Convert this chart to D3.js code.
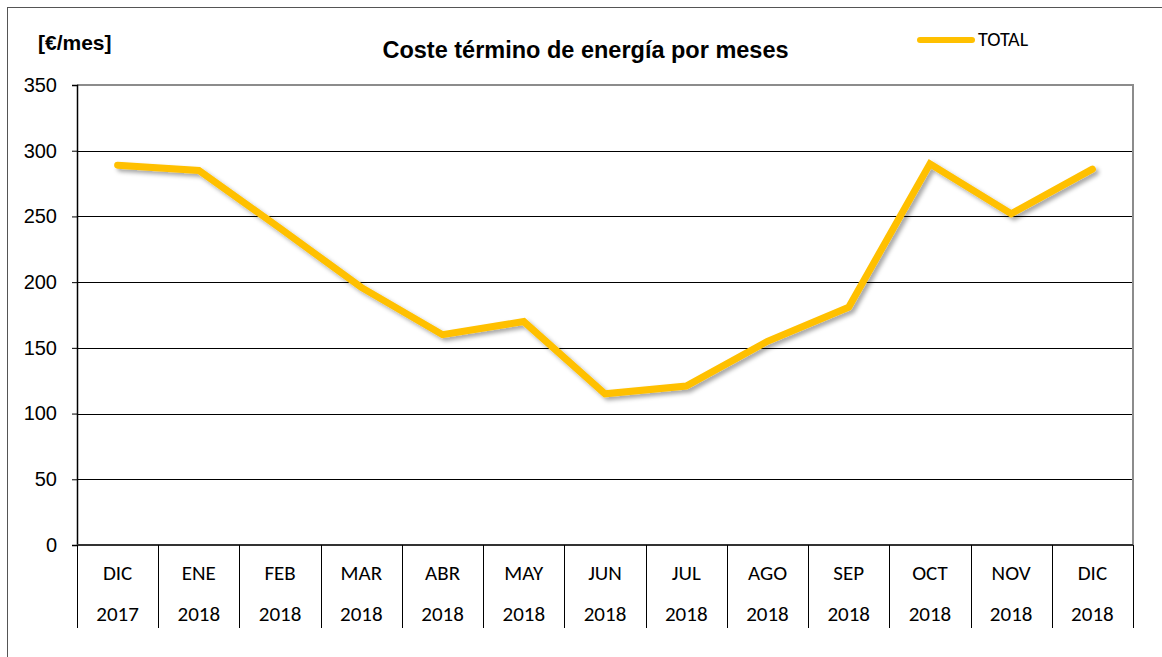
<!DOCTYPE html>
<html>
<head>
<meta charset="utf-8">
<script src="https://cdn.jsdelivr.net/npm/d3@7"></script>
<style>
  body { margin: 0; background: #fff; }
  svg { display: block; }
</style>
</head>
<body>
<svg id="chart"></svg>
<script>
/* global d3 */

// data
var months = ["DIC", "ENE", "FEB", "MAR", "ABR", "MAY", "JUN", "JUL", "AGO", "SEP", "OCT", "NOV", "DIC"];
var years = ["2017", "2018", "2018", "2018", "2018", "2018", "2018", "2018", "2018", "2018", "2018", "2018", "2018"];
var total = [289, 285, 241, 196, 160, 170, 115, 121, 155, 181, 290, 252, 286];
var yTicks = [0, 50, 100, 150, 200, 250, 300, 350];

var width = 1162,
  height = 657;

var plot = { left: 77, top: 85, right: 1133, bottom: 545 };

var svg = d3.select("#chart").attr("width", width).attr("height", height);

// outer frame (runs off the right and bottom edges)
svg.append("rect")
  .attr("x", 7.5).attr("y", 7.5)
  .attr("width", 1200).attr("height", 700)
  .attr("fill", "none")
  .attr("stroke", "#555")
  .attr("stroke-width", 1);

var keys = d3.range(months.length);

var x = d3.scaleBand()
  .domain(keys)
  .range([plot.left, plot.right]);

var y = d3.scaleLinear()
  .domain([0, 350])
  .range([plot.bottom, plot.top]);

var defs = svg.append("defs");
var shadow = defs.append("filter")
  .attr("id", "shadow")
  .attr("x", "-10%").attr("y", "-10%")
  .attr("width", "120%").attr("height", "130%");
shadow.append("feDropShadow")
  .attr("dx", 3).attr("dy", 3)
  .attr("stdDeviation", 2)
  .attr("flood-color", "#000")
  .attr("flood-opacity", 0.35);

// gridlines
svg.append("g")
  .selectAll("line")
  .data(yTicks.filter(function(d) { return d > 0 && d < 350; }))
  .join("line")
  .attr("x1", plot.left).attr("x2", plot.right)
  .attr("y1", function(d) { return Math.round(y(d)) + 0.5; })
  .attr("y2", function(d) { return Math.round(y(d)) + 0.5; })
  .attr("stroke", "#000")
  .attr("stroke-width", 1);

// plot border top & right (grey)
svg.append("path")
  .attr("d", "M" + plot.left + "," + (y(350)) + "H" + plot.right + "V" + plot.bottom)
  .attr("fill", "none")
  .attr("stroke", "#8c8c8c")
  .attr("stroke-width", 2);

// y axis
var yAxis = d3.axisLeft(y)
  .tickValues(yTicks)
  .tickSize(5)
  .tickPadding(15);

var yg = svg.append("g")
  .attr("transform", "translate(" + plot.left + ",0)")
  .call(yAxis);
yg.attr("font-family", "'Liberation Sans', Arial, sans-serif")
  .attr("font-size", 20);
yg.select(".domain").attr("stroke", "#000").attr("stroke-width", 1.5);
yg.selectAll(".tick line").attr("stroke", "#000");
yg.selectAll(".tick text").attr("fill", "#000");

// x baseline
svg.append("line")
  .attr("x1", plot.left).attr("x2", plot.right)
  .attr("y1", plot.bottom).attr("y2", plot.bottom)
  .attr("stroke", "#333")
  .attr("stroke-width", 2);

// category separators
var seps = keys.concat([months.length]);
svg.append("g")
  .selectAll("line")
  .data(seps)
  .join("line")
  .attr("x1", function(d) { return Math.round(plot.left + d * x.bandwidth()) + 0.5; })
  .attr("x2", function(d) { return Math.round(plot.left + d * x.bandwidth()) + 0.5; })
  .attr("y1", plot.bottom)
  .attr("y2", 628)
  .attr("stroke", "#000")
  .attr("stroke-width", 1);

var catFont = "Carlito, Calibri, 'Open Sans', sans-serif";

var cats = svg.append("g")
  .selectAll("g")
  .data(keys)
  .join("g")
  .attr("transform", function(d) { return "translate(" + (x(d) + x.bandwidth() / 2) + ",0)"; });

cats.append("text")
  .attr("y", 580)
  .attr("text-anchor", "middle")
  .attr("font-family", catFont)
  .attr("font-size", 21)
  .text(function(d) { return months[d]; });

cats.append("text")
  .attr("y", 621)
  .attr("text-anchor", "middle")
  .attr("font-family", catFont)
  .attr("font-size", 21)
  .text(function(d) { return years[d]; });

// series line
var line = d3.line()
  .x(function(d, i) { return x(i) + x.bandwidth() / 2; })
  .y(function(d) { return y(d); });

svg.append("path")
  .datum(total)
  .attr("d", line)
  .attr("fill", "none")
  .attr("stroke", "#FFC000")
  .attr("stroke-width", 7)
  .attr("stroke-linecap", "round")
  .attr("stroke-linejoin", "miter")
  .attr("filter", "url(#shadow)");

// title
svg.append("text")
  .attr("x", 585.5).attr("y", 58)
  .attr("text-anchor", "middle")
  .attr("font-family", "'Liberation Sans', Arial, sans-serif")
  .attr("font-weight", "bold")
  .attr("font-size", 23.5)
  .text("Coste término de energía por meses");

// unit label
svg.append("text")
  .attr("x", 38).attr("y", 50)
  .attr("font-family", "'Liberation Sans', Arial, sans-serif")
  .attr("font-weight", "bold")
  .attr("font-size", 21)
  .text("[€/mes]");

// legend
var legend = svg.append("g").attr("transform", "translate(918,40)");
legend.append("line")
  .attr("x1", 2).attr("x2", 54)
  .attr("stroke", "#FFC000")
  .attr("stroke-width", 6)
  .attr("stroke-linecap", "round");
legend.append("text")
  .attr("x", 60).attr("y", 6)
  .attr("font-family", catFont)
  .attr("font-size", 20)
  .text("TOTAL");
</script>
</body>
</html>
